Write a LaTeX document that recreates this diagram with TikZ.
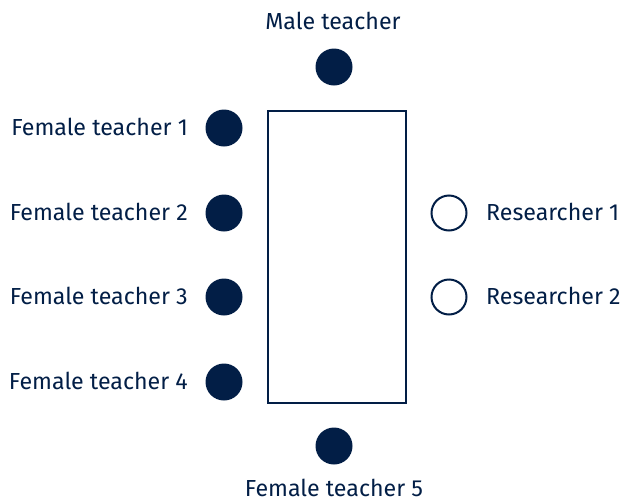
\documentclass[tikz,border=0pt]{standalone}
\usepackage{fontspec}
\setmainfont{Fira Sans}
\definecolor{navy}{RGB}{2,30,70}
\begin{document}
\begin{tikzpicture}[x=1pt,y=-1pt,
  seat/.style={circle,minimum size=37pt,inner sep=0pt,fill=navy},
  openseat/.style={circle,minimum size=35pt,inner sep=0pt,draw=navy,line width=2pt,fill=white},
  lbl/.style={text=navy,font=\fontsize{23.2}{27}\selectfont,inner sep=0pt}]
\useasboundingbox (0,0) rectangle (624,501);
\node[draw=navy,line width=2pt,minimum width=138pt,minimum height=292pt,inner sep=0pt] (table) at (336.5,256.5) {};
\node[seat] (m) at (334,67) {};
\node[seat] (f1) at (224,128) {};
\node[seat] (f2) at (224,213) {};
\node[seat] (f3) at (224,297) {};
\node[seat] (f4) at (224,382) {};
\node[seat] (f5) at (334,446) {};
\node[openseat] (r1) at (449,213) {};
\node[openseat] (r2) at (449,297) {};
\node[lbl,anchor=base] (lm) at (333,29) {Male teacher};
\node[lbl,anchor=base east] (l1) at (188,135) {Female teacher 1};
\node[lbl,anchor=base east] (l2) at (188,220) {Female teacher 2};
\node[lbl,anchor=base east] (l3) at (188,304) {Female teacher 3};
\node[lbl,anchor=base east] (l4) at (188,389) {Female teacher 4};
\node[lbl,anchor=base west] (lr1) at (486,220) {Researcher 1};
\node[lbl,anchor=base west] (lr2) at (486,304) {Researcher 2};
\node[lbl,anchor=base] (l5) at (334,496) {Female teacher 5};
\end{tikzpicture}
\end{document}
